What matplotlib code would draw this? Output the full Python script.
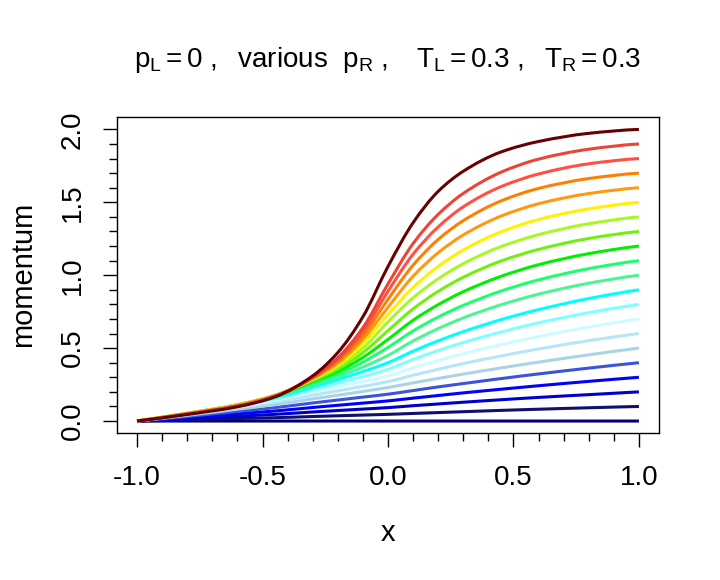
import matplotlib
matplotlib.use("Agg")
import matplotlib.pyplot as plt
from matplotlib.path import Path
from matplotlib.patches import PathPatch
import numpy as np

plt.rcParams['font.family'] = ['Liberation Sans', 'DejaVu Sans']
plt.rcParams['mathtext.fontset'] = 'custom'
plt.rcParams['mathtext.rm'] = 'Liberation Sans'
plt.rcParams['mathtext.it'] = 'Liberation Sans'
plt.rcParams['mathtext.bf'] = 'Liberation Sans:bold'
plt.rcParams['mathtext.default'] = 'regular'

# ---- data ----
x_grid = [-1.0, -0.8, -0.6, -0.45, -0.3, -0.2, -0.1, 0.0, 0.1, 0.2, 0.3, 0.45, 0.6, 0.8, 1.0]

p_R_values = [0.0, 0.1, 0.2, 0.3, 0.4, 0.5, 0.6, 0.7, 0.8, 0.9, 1.0,
              1.1, 1.2, 1.3, 1.4, 1.5, 1.6, 1.7, 1.8, 1.9, 2.0]

p_00 = [0, 0, 0, 0, 0, 0, 0, 0, 0, 0, 0, 0, 0, 0, 0]
p_01 = [0, .008, .017, .023, .031, .036, .041, .046, .052, .058, .064, .073, .081, .091, .1]
p_02 = [0, .016, .033, .046, .062, .072, .082, .092, .105, .117, .129, .146, .162, .181, .2]
p_03 = [0, .024, .050, .069, .093, .108, .123, .138, .157, .175, .193, .218, .242, .272, .3]
p_04 = [0, .032, .066, .092, .124, .144, .164, .184, .209, .234, .257, .291, .323, .363, .4]
p_05 = [0, .039, .081, .113, .152, .177, .203, .230, .262, .292, .322, .364, .404, .454, .5]
p_06 = [0, .043, .091, .130, .177, .207, .238, .270, .314, .355, .394, .446, .494, .551, .6]
p_07 = [0, .046, .098, .142, .198, .235, .272, .310, .365, .414, .461, .524, .579, .644, .7]
p_08 = [0, .048, .103, .152, .216, .260, .305, .355, .422, .483, .538, .610, .673, .743, .8]
p_09 = [0, .050, .106, .160, .234, .284, .340, .400, .479, .550, .613, .695, .764, .840, .9]
p_10 = [0, .051, .108, .166, .248, .304, .370, .450, .549, .634, .707, .797, .870, .945, 1.0]
p_11 = [0, .052, .110, .170, .260, .322, .404, .505, .618, .713, .793, .891, .968, 1.045, 1.1]
p_12 = [0, .053, .111, .174, .270, .340, .436, .560, .691, .798, .887, .992, 1.072, 1.148, 1.2]
p_13 = [0, .053, .112, .177, .278, .356, .469, .620, .769, .889, .986, 1.097, 1.177, 1.252, 1.3]
p_14 = [0, .053, .111, .177, .284, .372, .500, .680, .845, .975, 1.079, 1.196, 1.278, 1.353, 1.4]
p_15 = [0, .052, .110, .176, .288, .386, .530, .730, .916, 1.060, 1.173, 1.297, 1.382, 1.455, 1.5]
p_16 = [0, .051, .108, .175, .292, .398, .560, .780, .993, 1.154, 1.276, 1.405, 1.490, 1.560, 1.6]
p_17 = [0, .050, .106, .173, .295, .410, .585, .835, 1.069, 1.245, 1.374, 1.509, 1.595, 1.663, 1.7]
p_18 = [0, .049, .104, .171, .298, .422, .612, .890, 1.144, 1.331, 1.469, 1.607, 1.694, 1.764, 1.8]
p_19 = [0, .048, .102, .169, .301, .435, .640, .940, 1.217, 1.417, 1.561, 1.706, 1.796, 1.864, 1.9]
p_20 = [0, .045, .098, .166, .310, .470, .715, 1.060, 1.360, 1.575, 1.713, 1.845, 1.917, 1.973, 2.0]

curves = [p_00, p_01, p_02, p_03, p_04, p_05, p_06, p_07, p_08, p_09, p_10,
          p_11, p_12, p_13, p_14, p_15, p_16, p_17, p_18, p_19, p_20]

curve_colors = ['#000075', '#10106E', '#0000CD', '#0000FF', '#3B55D9', '#A8D4E6',
                '#B4E6F8', '#CCFCFF', '#80FFFF', '#00FFFF', '#4CF593', '#1EFF70',
                '#00F000', '#70F010', '#A8F828', '#FFF200', '#FF9A10', '#FF8000',
                '#FF5040', '#EA4535', '#680000']

x_major = [-1.0, -0.5, 0.0, 0.5, 1.0]
x_major_labels = ['-1.0', '-0.5', '0.0', '0.5', '1.0']
y_major = [0.0, 0.5, 1.0, 1.5, 2.0]
y_major_labels = ['0.0', '0.5', '1.0', '1.5', '2.0']


def smooth_path(xs, ys):
    """Monotone cubic (Fritsch-Carlson) Bezier path through the data points."""
    xs = np.asarray(xs, float)
    ys = np.asarray(ys, float)
    n = len(xs)
    h = np.diff(xs)
    d = np.diff(ys) / h
    m = np.zeros(n)
    for i in range(1, n - 1):
        if d[i - 1] * d[i] <= 0:
            m[i] = 0.0
        else:
            w1 = 2 * h[i] + h[i - 1]
            w2 = h[i] + 2 * h[i - 1]
            m[i] = (w1 + w2) / (w1 / d[i - 1] + w2 / d[i])
    m[0] = ((2 * h[0] + h[1]) * d[0] - h[0] * d[1]) / (h[0] + h[1])
    if m[0] * d[0] <= 0:
        m[0] = 0.0
    m[-1] = ((2 * h[-1] + h[-2]) * d[-1] - h[-1] * d[-2]) / (h[-1] + h[-2])
    if m[-1] * d[-1] <= 0:
        m[-1] = 0.0
    verts = [(xs[0], ys[0])]
    codes = [Path.MOVETO]
    for i in range(n - 1):
        hh = h[i] / 3.0
        verts += [(xs[i] + hh, ys[i] + m[i] * hh),
                  (xs[i + 1] - hh, ys[i + 1] - m[i + 1] * hh),
                  (xs[i + 1], ys[i + 1])]
        codes += [Path.CURVE4] * 3
    return Path(verts, codes)


# ---- figure ----
W, H = 720, 580
fig = plt.figure(figsize=(W / 100, H / 100), dpi=100)
left, right, top, bottom = 117, 659, 117, 432.7
ax = fig.add_axes([left / W, 1 - bottom / H, (right - left) / W, (bottom - top) / H])

for ys, col in zip(curves, curve_colors):
    patch = PathPatch(smooth_path(x_grid, ys), facecolor='none', edgecolor=col,
                      lw=2.2, capstyle='butt', joinstyle='round')
    ax.add_patch(patch)

ax.set_xlim(-1.08, 1.08)
ax.set_ylim(-0.08, 2.085)

ax.set_xticks(x_major)
ax.set_xticklabels(x_major_labels)
ax.set_xticks(np.round(np.arange(-1.0, 1.0001, 0.1), 2), minor=True)
ax.set_yticks(y_major)
ax.set_yticklabels(y_major_labels, rotation=90, va='center')
ax.set_yticks(np.round(np.arange(0.0, 2.0001, 0.1), 2), minor=True)

ax.tick_params(which='major', direction='out', length=10, width=1.0, labelsize=20, color='black')
ax.tick_params(which='minor', direction='out', length=5.8, width=1.0, color='black')
ax.tick_params(axis='x', which='major', pad=13.5)
ax.tick_params(axis='y', which='major', pad=12.5)

for s in ax.spines.values():
    s.set_linewidth(1.0)
    s.set_color('black')

ax.set_xlabel('x', fontsize=21)
ax.xaxis.set_label_coords(0.5, -0.317)
ax.xaxis.label.set_va('center')
ax.set_ylabel('momentum', fontsize=21)
ax.yaxis.set_label_coords(-0.1734, 0.5)
ax.yaxis.label.set_va('center')

title = r'$p_L = 0\ ,\ \ various\ \ p_R\ ,\ \ \ T_L = 0.3\ ,\ \ T_R = 0.3$'
fig.text(388 / W, 1 - 67 / H, title, ha='center', va='baseline', fontsize=20)

fig.savefig('out.png', dpi=100)
